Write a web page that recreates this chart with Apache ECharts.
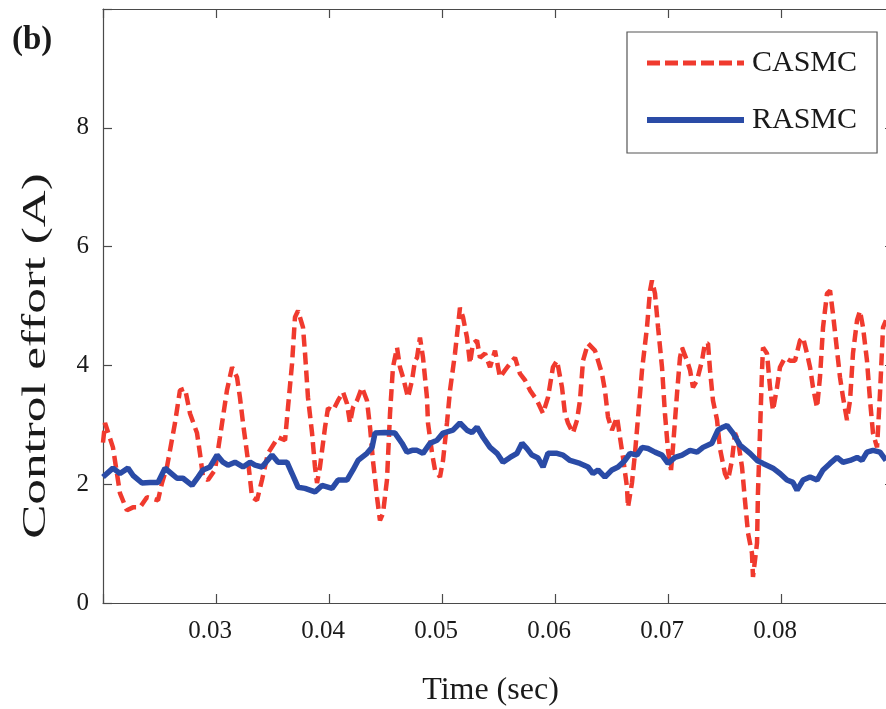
<!DOCTYPE html>
<html>
<head>
<meta charset="utf-8">
<script src="https://cdn.jsdelivr.net/npm/echarts@6/dist/echarts.min.js"></script>
<style>html,body{margin:0;padding:0;background:#fff;}#c{width:886px;height:709px;}</style>
</head>
<body>
<div id="c"></div>
<script>
// ---- data ----
const xTickLabels = ['0.03','0.04','0.05','0.06','0.07','0.08'];
const yTickLabels = ['0','2','4','6','8'];
const xTitle = 'Time (sec)';
const yTitle = 'Control effort (A)';

const casmcT = [0.02000,0.02018,0.02088,0.02150,0.02212,0.02265,0.02327,0.02389,0.02487,0.02522,0.02566,0.02637,0.02681,0.02726,0.02770,0.02832,0.02858,0.02885,0.02929,0.02991,0.03035,0.03097,0.03142,0.03186,0.03212,0.03239,0.03283,0.03319,0.03363,0.03407,0.03460,0.03549,0.03611,0.03637,0.03673,0.03699,0.03726,0.03770,0.03788,0.03814,0.03850,0.03876,0.03894,0.03920,0.03965,0.03991,0.04035,0.04080,0.04124,0.04159,0.04186,0.04212,0.04248,0.04292,0.04336,0.04363,0.04389,0.04425,0.04451,0.04478,0.04513,0.04540,0.04566,0.04602,0.04628,0.04655,0.04699,0.04735,0.04761,0.04779,0.04805,0.04832,0.04867,0.04876,0.04912,0.04938,0.04982,0.05009,0.05044,0.05071,0.05115,0.05159,0.05186,0.05221,0.05248,0.05274,0.05310,0.05336,0.05381,0.05425,0.05469,0.05513,0.05558,0.05602,0.05646,0.05690,0.05735,0.05779,0.05841,0.05894,0.05938,0.05982,0.06018,0.06062,0.06088,0.06115,0.06159,0.06195,0.06221,0.06248,0.06292,0.06354,0.06381,0.06416,0.06442,0.06469,0.06504,0.06549,0.06575,0.06602,0.06637,0.06646,0.06681,0.06708,0.06735,0.06770,0.06814,0.06841,0.06858,0.06885,0.06912,0.06947,0.06973,0.07000,0.07027,0.07044,0.07080,0.07106,0.07124,0.07168,0.07195,0.07221,0.07257,0.07301,0.07327,0.07354,0.07372,0.07398,0.07434,0.07460,0.07504,0.07531,0.07566,0.07593,0.07619,0.07655,0.07681,0.07708,0.07743,0.07752,0.07788,0.07796,0.07814,0.07832,0.07841,0.07876,0.07903,0.07929,0.07965,0.07991,0.08035,0.08080,0.08124,0.08168,0.08195,0.08230,0.08257,0.08283,0.08319,0.08345,0.08372,0.08407,0.08434,0.08460,0.08496,0.08522,0.08549,0.08584,0.08611,0.08637,0.08673,0.08699,0.08726,0.08761,0.08788,0.08814,0.08850,0.08876,0.08903,0.08929];
const casmcV = [2.70,3.03,2.62,1.85,1.56,1.61,1.61,1.78,1.73,2.02,2.29,3.03,3.58,3.61,3.19,2.86,2.52,2.12,2.07,2.24,2.79,3.58,3.97,3.80,3.46,3.03,2.40,1.78,1.73,2.07,2.52,2.79,2.74,3.29,4.03,4.81,4.92,4.64,4.20,3.46,2.86,2.29,2.02,2.29,2.96,3.28,3.24,3.41,3.55,3.36,3.03,3.29,3.41,3.63,3.41,2.96,2.40,1.78,1.39,1.51,2.07,3.19,3.97,4.30,3.97,3.80,3.46,3.75,4.08,4.13,4.47,4.13,3.46,3.03,2.52,2.24,2.12,2.40,3.03,3.58,4.20,4.97,4.81,4.47,4.03,4.37,4.42,4.13,4.20,3.97,4.25,3.80,3.92,4.03,4.13,3.86,3.75,3.58,3.41,3.19,3.46,3.97,4.08,3.63,3.19,3.03,2.86,3.08,3.41,4.08,4.37,4.25,4.08,3.86,3.58,3.13,2.91,3.13,2.79,2.45,1.95,1.61,2.02,2.52,3.13,3.92,4.64,5.26,5.43,5.21,4.64,3.97,3.19,2.57,2.24,2.62,3.53,4.13,4.30,4.08,3.92,3.63,3.75,4.08,4.37,4.37,3.92,3.41,3.08,2.60,2.18,2.07,2.40,2.86,2.74,2.29,1.73,1.18,0.84,0.44,1.01,1.85,2.86,3.92,4.30,4.20,3.63,3.24,3.63,3.97,4.13,4.08,4.08,4.42,4.47,4.20,3.97,3.63,3.29,3.80,4.64,5.21,5.26,4.87,4.25,3.80,3.46,3.08,3.41,4.20,4.76,4.92,4.64,4.08,3.41,2.86,2.62,3.53,4.64,4.76];

const rasmcT = [0.02000,0.02088,0.02150,0.02221,0.02265,0.02345,0.02416,0.02487,0.02549,0.02593,0.02655,0.02708,0.02788,0.02841,0.02885,0.02947,0.03009,0.03062,0.03106,0.03168,0.03239,0.03301,0.03345,0.03407,0.03496,0.03549,0.03628,0.03673,0.03726,0.03788,0.03876,0.03938,0.04027,0.04080,0.04159,0.04212,0.04257,0.04336,0.04381,0.04407,0.04496,0.04584,0.04646,0.04690,0.04735,0.04779,0.04832,0.04894,0.04956,0.05009,0.05097,0.05159,0.05221,0.05265,0.05310,0.05363,0.05425,0.05487,0.05540,0.05602,0.05664,0.05708,0.05752,0.05796,0.05850,0.05894,0.05938,0.06018,0.06071,0.06133,0.06221,0.06292,0.06336,0.06381,0.06442,0.06504,0.06558,0.06619,0.06664,0.06726,0.06770,0.06823,0.06885,0.06947,0.07000,0.07062,0.07124,0.07195,0.07257,0.07310,0.07389,0.07442,0.07487,0.07522,0.07575,0.07637,0.07726,0.07788,0.07841,0.07929,0.07991,0.08053,0.08106,0.08142,0.08195,0.08257,0.08319,0.08372,0.08434,0.08496,0.08549,0.08611,0.08673,0.08717,0.08761,0.08814,0.08876,0.08929];
const rasmcV = [2.12,2.27,2.18,2.27,2.15,2.02,2.03,2.03,2.27,2.20,2.10,2.10,1.98,2.12,2.24,2.29,2.49,2.37,2.32,2.37,2.29,2.37,2.32,2.29,2.49,2.37,2.37,2.18,1.95,1.93,1.87,1.98,1.93,2.07,2.07,2.24,2.40,2.52,2.62,2.86,2.87,2.86,2.69,2.54,2.57,2.57,2.52,2.69,2.74,2.86,2.91,3.03,2.91,2.87,2.96,2.79,2.62,2.52,2.37,2.45,2.52,2.69,2.60,2.49,2.44,2.29,2.52,2.52,2.49,2.40,2.35,2.29,2.18,2.24,2.12,2.24,2.29,2.40,2.52,2.49,2.62,2.60,2.54,2.49,2.35,2.45,2.49,2.57,2.54,2.62,2.69,2.91,2.96,2.99,2.86,2.66,2.52,2.40,2.35,2.27,2.18,2.07,2.03,1.90,2.07,2.12,2.07,2.24,2.35,2.45,2.37,2.40,2.45,2.40,2.54,2.57,2.54,2.40];

const casmcData = casmcT.map((t, i) => [t, casmcV[i]]);
const rasmcData = rasmcT.map((t, i) => [t, rasmcV[i]]);

const FONT = '"Liberation Serif", "DejaVu Serif", serif';
const AX = '#4a4a4a';
const RED = '#f03a2e';
const BLUE = '#2a4ba6';

const chart = echarts.init(document.getElementById('c'), null, {renderer: 'canvas'});
const common = {
  axisLine: {show: true, onZero: false, lineStyle: {color: AX, width: 1.2}},
  axisTick: {show: true, inside: true, length: 9, lineStyle: {color: AX, width: 1.2}},
  splitLine: {show: false}
};
chart.setOption({
  animation: false,
  backgroundColor: '#fff',
  grid: {left: 103, top: 9, width: 791, height: 594, containLabel: false, outerBoundsMode: 'none'},
  graphic: [{
    type: 'text', left: 12, top: 24,
    style: {text: '(b)', font: 'bold 33px ' + FONT, fill: '#1a1a1a'}
  }, {
    type: 'text', x: 36, y: 356, rotation: Math.PI / 2, scaleX: 1.55,
    style: {text: yTitle, font: '33px ' + FONT, fill: '#1a1a1a', align: 'center', verticalAlign: 'middle'}
  }],
  legend: {
    left: 627, top: 32,
    orient: 'vertical',
    itemWidth: 97, itemHeight: 20, itemGap: 27,
    padding: [16, 20, 18, 17],
    borderColor: '#555', borderWidth: 1.2, borderRadius: 0,
    backgroundColor: '#fff',
    itemStyle: {color: 'rgba(0,0,0,0)', borderWidth: 0, opacity: 0},
    textStyle: {fontFamily: FONT, fontSize: 30, color: '#1a1a1a', padding: [0, 0, 0, 3]},
    data: [
      {name: 'CASMC', lineStyle: {color: RED, width: 5, type: [13, 5]}},
      {name: 'RASMC', lineStyle: {color: BLUE, width: 6}}
    ]
  },
  xAxis: [Object.assign({
    type: 'value', min: 0.02, max: 0.09, interval: 0.01, position: 'bottom',
    name: xTitle, nameLocation: 'middle', nameGap: 72,
    nameTextStyle: {fontFamily: FONT, fontSize: 32, color: '#1a1a1a', padding: [0, 16, 0, 0]},
    axisLabel: {
      fontFamily: FONT, fontSize: 25, color: '#1a1a1a', margin: 16, padding: [0, 12, 0, 0],
      formatter: v => { const s = v.toFixed(2); return xTickLabels.indexOf(s) >= 0 ? s : ''; }
    }
  }, common), Object.assign({
    type: 'value', min: 0.02, max: 0.09, interval: 0.01, position: 'top',
    axisLabel: {show: false}
  }, common)],
  yAxis: [Object.assign({
    type: 'value', min: 0, max: 10, interval: 2, position: 'left',
    axisLabel: {
      fontFamily: FONT, fontSize: 25, color: '#1a1a1a', margin: 14,
      formatter: v => { const s = String(Math.round(v)); return yTickLabels.indexOf(s) >= 0 ? s : ''; }
    }
  }, common), Object.assign({
    type: 'value', min: 0, max: 10, interval: 2, position: 'right',
    axisLabel: {show: false}
  }, common)],
  series: [
    {
      name: 'CASMC', type: 'line', data: casmcData, symbol: 'none', smooth: false,
      lineStyle: {color: RED, width: 4.5, type: [12, 6]},
      itemStyle: {color: RED}, z: 2
    },
    {
      name: 'RASMC', type: 'line', data: rasmcData, symbol: 'none', smooth: false,
      lineStyle: {color: BLUE, width: 5.5},
      itemStyle: {color: BLUE}, z: 3
    }
  ]
});
</script>
</body>
</html>
